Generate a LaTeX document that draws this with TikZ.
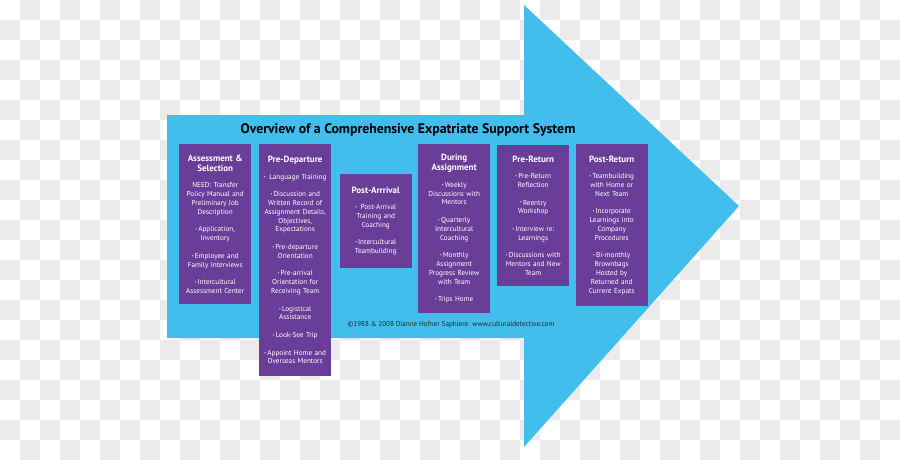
\documentclass[tikz,border=0pt]{standalone}
\usepackage{fontspec}
\setmainfont{PT Sans}
\definecolor{arrowcyan}{HTML}{41BEEB}
\definecolor{stagepurple}{HTML}{6A3E98}
\definecolor{checkgray}{HTML}{EBEBEB}
\newcommand{\itemdot}{\raisebox{0.14em}{\fontsize{4}{4}\selectfont\textbullet}\,}
\newcommand{\stagehead}[1]{{\fontsize{9}{10.3}\selectfont\bfseries #1\par}\vspace{7.5pt}}

\begin{document}
\begin{tikzpicture}[x=1pt,y=-1pt,
  stagebox/.style={fill=stagepurple,text=white,anchor=north west,inner sep=2pt,
    minimum width=72pt,text width=68pt,align=center,
    font=\fontsize{7.2}{8.8}\selectfont}]
  \useasboundingbox (0,0) rectangle (900,460);
  % transparency checkerboard
  \foreach \j in {0,...,22}{
    \pgfmathtruncatemacro{\off}{mod(\j+1,2)}
    \foreach \i in {0,2,...,44}
      \fill[checkgray] ({(\i+\off)*20},{\j*20}) rectangle ++(20,20);
  }
  % the arrow
  \fill[arrowcyan] (167,115) -- (524,115) -- (524,5) -- (739,206) -- (524,447)
    -- (524,338) -- (167,338) -- cycle;
  \node[font=\fontsize{13.8}{16}\selectfont\bfseries] (title) at (408,130)
    {Overview of a Comprehensive Expatriate Support System};

  \node[stagebox,minimum height=160pt] (assess) at (179,144) {\stagehead{Assessment \&\\ Selection}
    NEED: Transfer\\ Policy Manual and\\ Preliminary Job\\ Description\\[8.8pt]
    \itemdot Application,\\ Inventory\\[8.8pt]
    \itemdot Employee and\\ Family Interviews\\[8.8pt]
    \itemdot Intercultural\\ Assessment Center};
  \node[stagebox,minimum height=232pt] (predep) at (259,144) {\stagehead{Pre-Departure}
    \itemdot\ Language Training\\[8.8pt]
    \itemdot Discussion and\\ Written Record of\\ Assignment Details,\\ Objectives,\\ Expectations\\[8.8pt]
    \itemdot Pre-departure\\ Orientation\\[8.8pt]
    \itemdot Pre-arrival\\ Orientation for\\ Receiving Team\\[8.8pt]
    \itemdot Logistical\\ Assistance\\[8.8pt]
    \itemdot Look-See Trip\\[8.8pt]
    \itemdot Appoint Home and\\ Overseas Mentors};
  \node[stagebox,minimum height=94pt] (postarr) at (339.5,174) {\stagehead{Post-Arrrival}
    \itemdot\ Post-Arrival\\ Training and\\ Coaching\\[8.8pt]
    \itemdot Intercultural\\ Teambuilding};
  \node[stagebox,minimum height=169pt] (during) at (418,144) {\stagehead{During\\ Assignment}
    \itemdot Weekly\\ Discussions with\\ Mentors\\[8.8pt]
    \itemdot Quarterly\\ Intercultural\\ Coaching\\[8.8pt]
    \itemdot Monthly\\ Assignment\\ Progress Review\\ with Team\\[8.8pt]
    \itemdot Trips Home};
  \node[stagebox,minimum height=141pt] (preret) at (497,145) {\stagehead{Pre-Return}
    \itemdot Pre-Return\\ Reflection\\[8.8pt]
    \itemdot Reentry\\ Workshop\\[8.8pt]
    \itemdot Interview re:\\ Learnings\\[8.8pt]
    \itemdot Discussions with\\ Mentors and New\\ Team};
  \node[stagebox,minimum height=162pt] (postret) at (575.5,144) {\stagehead{Post-Return}
    \itemdot Teambuilding\\ with Home or\\ Next Team\\[8.8pt]
    \itemdot Incorporate\\ Learnings into\\ Company\\ Procedures\\[8.8pt]
    \itemdot Bi-monthly\\ Brownbags\\ Hosted by\\ Returned and\\ Current Expats};

  \node[font=\fontsize{7.1}{8}\selectfont,text=black!85] (credit) at (451,325)
    {©1988 \& 2008 Dianne Hofner Saphiere. www.culturaldetective.com};
\end{tikzpicture}
\end{document}
